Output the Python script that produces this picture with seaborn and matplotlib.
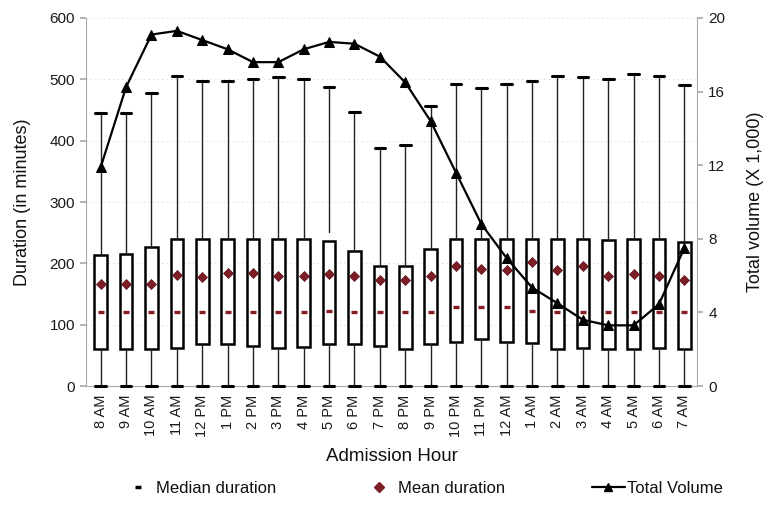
import numpy as np
import pandas as pd
import matplotlib
matplotlib.use("Agg")
import matplotlib.pyplot as plt
from matplotlib.lines import Line2D
import seaborn as sns

hours = ["8 AM", "9 AM", "10 AM", "11 AM", "12 PM", "1 PM", "2 PM", "3 PM", "4 PM",
         "5 PM", "6 PM", "7 PM", "8 PM", "9 PM", "10 PM", "11 PM", "12 AM", "1 AM",
         "2 AM", "3 AM", "4 AM", "5 AM", "6 AM", "7 AM"]
whisker_low = [0] * 24
q1 = [60, 60, 60, 62, 69, 69, 65, 62, 63, 69, 68, 65, 60, 68, 72, 76, 72, 70,
      61, 62, 60, 60, 62, 60]
q3 = [214, 215, 227, 240, 240, 240, 240, 240, 239, 236, 220, 196, 196, 224,
      240, 240, 240, 240, 240, 240, 238, 240, 240, 235]
whisker_high = [445, 445, 478, 505, 498, 497, 500, 503, 501, 488, 447, 388, 393,
                456, 492, 486, 492, 497, 506, 503, 501, 509, 505, 490]
median_dur = [120, 120, 120, 120, 120, 120, 120, 120, 120, 122, 120, 120, 120,
              120, 129, 129, 129, 122, 120, 120, 120, 120, 120, 120]
mean_dur = [166, 167, 167, 181, 178, 185, 185, 180, 179, 182, 179, 173, 173,
            180, 195, 191, 190, 202, 189, 196, 179, 182, 179, 173]
total_volume = [11.9, 16.25, 19.1, 19.3, 18.8, 18.3, 17.6, 17.6, 18.3, 18.7,
                18.6, 17.9, 16.5, 14.4, 11.6, 8.8, 6.95, 5.35, 4.5, 3.6, 3.3,
                3.3, 4.45, 7.5]
# upper whisker of 5 PM starts above the box in the reference
upper_whisker_start = {"5 PM": 251}

sns.set_theme(style="white")
plt.rcParams["font.family"] = ["Liberation Sans", "DejaVu Sans"]

df = pd.DataFrame({"hour": hours, "pos": np.arange(len(hours)),
                   "median": median_dur, "mean": mean_dur,
                   "volume": total_volume})

fig = plt.figure(figsize=(7.68, 5.08), dpi=100)
ax = fig.add_axes([0.112, 0.240, 0.7956, 0.7246])

stats = []
for i, h in enumerate(hours):
    stats.append({"label": h, "whislo": whisker_low[i], "q1": q1[i],
                  "med": median_dur[i], "q3": q3[i], "whishi": whisker_high[i]})

bp = ax.bxp(stats, positions=df["pos"], widths=0.5, showfliers=False,
            patch_artist=True, manage_ticks=False,
            boxprops=dict(facecolor="white", edgecolor="black", linewidth=1.8),
            whiskerprops=dict(color="#222222", linewidth=1.0),
            capprops=dict(color="black", linewidth=2.2),
            medianprops=dict(linewidth=0), capwidths=0.42)
for c in bp["caps"]:
    c.set_clip_on(False)
    c.set_zorder(5)
for h, y0 in upper_whisker_start.items():
    i = hours.index(h)
    w = bp["whiskers"][2 * i + 1]
    yd = list(w.get_ydata())
    yd[0] = y0
    w.set_ydata(yd)

sns.scatterplot(data=df, x="pos", y="median", marker="_", s=22, color="#8a1c24",
                linewidth=2.4, ax=ax, zorder=4, legend=False)
sns.scatterplot(data=df, x="pos", y="mean", marker="D", s=26, color="#7d1d26",
                edgecolor="#5a1018", linewidth=0.5, ax=ax, zorder=4, legend=False)

ax.set_xlim(-0.58, 23.48)
ax.set_ylim(0, 600)
ax.set_yticks(np.arange(0, 601, 100))
ax.set_xticks(df["pos"])
ax.set_xticklabels(hours, rotation=90, fontsize=10.5, color="#1a1a1a")
ax.set_xticks(np.arange(-0.5, 24, 1), minor=True)
ax.tick_params(axis="x", which="major", length=0, pad=6)
ax.tick_params(axis="x", which="minor", length=3, color="#aaaaaa", direction="inout")
ax.tick_params(axis="y", which="major", length=4, color="#aaaaaa", labelsize=11,
               pad=4, labelcolor="#1a1a1a")
ax.yaxis.grid(True, linestyle=(0, (1, 3)), color="#d8d8d8", linewidth=0.8)
ax.set_axisbelow(True)
for s in ["top", "right"]:
    ax.spines[s].set_visible(False)
for s in ["left", "bottom"]:
    ax.spines[s].set_color("#aaaaaa")
    ax.spines[s].set_linewidth(0.8)
ax.set_xlabel("Admission Hour", fontsize=13.5, labelpad=8, color="#111111")
ax.set_ylabel("Duration (in minutes)", fontsize=13, labelpad=13, color="#111111")

ax2 = ax.twinx()
sns.lineplot(data=df, x="pos", y="volume", color="black", linewidth=1.6,
             marker="^", markersize=7, markeredgecolor="black", ax=ax2)
ax2.set_ylim(0, 20)
ax2.set_yticks([0, 4, 8, 12, 16, 20])
ax2.set_xlim(ax.get_xlim())
ax2.tick_params(axis="y", length=4, color="#aaaaaa", labelsize=11, pad=4,
                labelcolor="#1a1a1a")
for s in ["top", "left", "bottom"]:
    ax2.spines[s].set_visible(False)
ax2.spines["right"].set_color("#aaaaaa")
ax2.spines["right"].set_linewidth(0.8)
ax2.set_ylabel("Total volume (X 1,000)", fontsize=13, labelpad=16, color="#111111")
ax2.set_xlabel("")

handles = [
    Line2D([], [], linestyle="none", marker="_", markersize=5, color="black",
           markeredgewidth=2.5),
    Line2D([], [], linestyle="none", marker="D", markersize=5, color="#7d1d26"),
    Line2D([], [], color="black", linewidth=1.6, marker="^", markersize=6),
]
fig.legend(handles, ["Median duration", "Mean duration", "Total Volume"],
           loc="lower center", bbox_to_anchor=(0.549, -0.005), ncol=3,
           frameon=False, fontsize=12, columnspacing=5.2, handlelength=2.0,
           handletextpad=0.1, labelcolor="#111111")

fig.savefig("out.png", dpi=100)
